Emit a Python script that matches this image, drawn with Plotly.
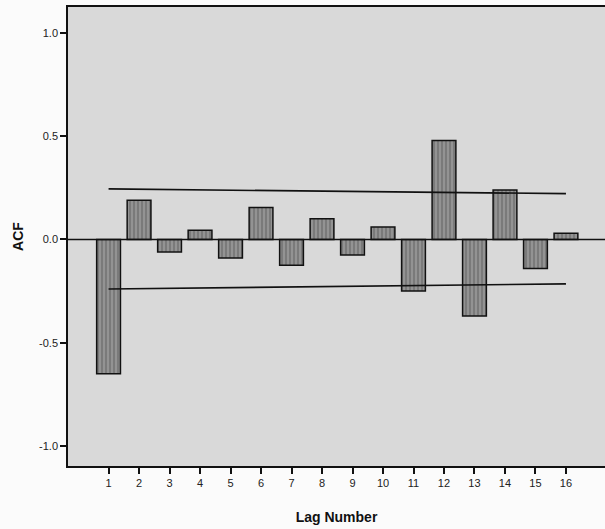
import plotly.graph_objects as go

lags = list(range(1, 17))
acf = [-0.65, 0.19, -0.06, 0.045, -0.09, 0.155, -0.125, 0.10,
       -0.075, 0.06, -0.25, 0.48, -0.37, 0.24, -0.14, 0.03]
conf_lags = [1, 16]
upper_conf = [0.245, 0.222]
lower_conf = [-0.24, -0.215]
y_ticks = [1.0, 0.5, 0.0, -0.5, -1.0]
y_ticklabels = ["1.0", "0.5", "0.0", "-0.5", "-1.0"]

fig = go.Figure()
fig.add_trace(go.Bar(
    x=lags, y=acf, width=0.78,
    marker=dict(color="#8c8c8c",
                line=dict(color="#111111", width=1.5),
                pattern=dict(shape="|", fgcolor="#3e3e3e", bgcolor="#939393",
                             size=4, solidity=0.3)),
    showlegend=False, hoverinfo="skip"))
fig.add_trace(go.Scatter(x=conf_lags, y=upper_conf, mode="lines",
                         line=dict(color="#111111", width=1.6),
                         showlegend=False, hoverinfo="skip"))
fig.add_trace(go.Scatter(x=conf_lags, y=lower_conf, mode="lines",
                         line=dict(color="#111111", width=1.6),
                         showlegend=False, hoverinfo="skip"))
fig.add_shape(type="line", xref="paper", yref="y", x0=0, x1=1, y0=0, y1=0,
              line=dict(color="#111111", width=1.6), layer="above")

fig.update_layout(
    width=605, height=529,
    margin=dict(l=68, r=0, t=7, b=63),
    paper_bgcolor="#fbfbfb",
    plot_bgcolor="#d9d9d9",
    font=dict(family="Liberation Sans, Arial, sans-serif", size=11, color="#222222"),
    xaxis=dict(range=[-0.33, 17.28], tickvals=lags, ticktext=[str(l) for l in lags],
               showgrid=False, zeroline=False, showline=True, linecolor="#111111",
               linewidth=1.5, mirror=True, ticks="outside", ticklen=6, tickwidth=1.5,
               tickcolor="#111111",
               title=dict(text="<b>Lag Number</b>", font=dict(size=14, color="#111111"),
                          standoff=24)),
    yaxis=dict(range=[-1.097, 1.126], tickvals=y_ticks, ticktext=y_ticklabels,
               showgrid=False, zeroline=False, showline=True, linecolor="#111111",
               linewidth=1.5, mirror=False, ticks="outside", ticklen=6, tickwidth=1.5,
               tickcolor="#111111",
               title=dict(text="<b>ACF</b>", font=dict(size=14, color="#111111"),
                          standoff=12)),
)
fig.write_html("out.html")
